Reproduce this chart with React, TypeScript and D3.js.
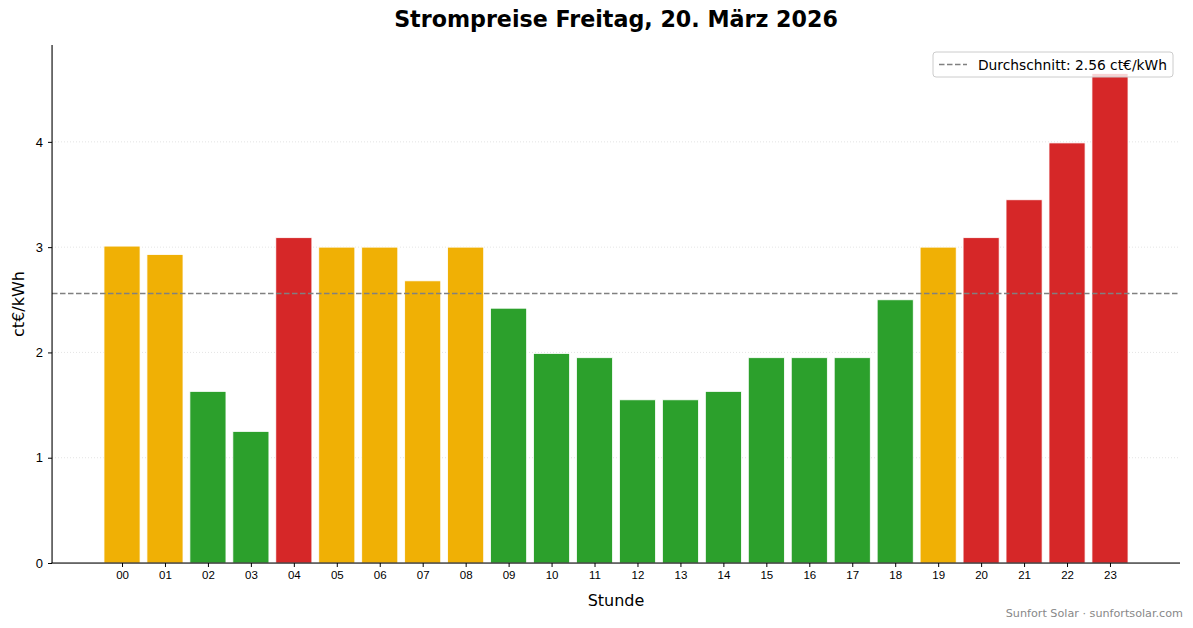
import { useEffect, useRef } from 'react';
import * as d3 from 'd3';

// hourly prices, ct€/kWh
const hours: string[] = ['00', '01', '02', '03', '04', '05', '06', '07', '08', '09', '10', '11',
    '12', '13', '14', '15', '16', '17', '18', '19', '20', '21', '22', '23'];
const prices: number[] = [3.01, 2.93, 1.63, 1.25, 3.09, 3.0, 3.0, 2.68, 3.0, 2.42, 1.99, 1.95,
    1.55, 1.55, 1.63, 1.95, 1.95, 1.95, 2.5, 3.0, 3.09, 3.45, 3.99, 4.65];
// g = günstig, m = mittel, t = teuer
const levels: string[] = ['m', 'm', 'g', 'g', 't', 'm', 'm', 'm', 'm', 'g', 'g', 'g',
    'g', 'g', 'g', 'g', 'g', 'g', 'g', 'm', 't', 't', 't', 't'];
const average = 2.56;
const yTicks: number[] = [0, 1, 2, 3, 4];

const colors: Record<string, string> = { g: '#2ca02c', m: '#f0b005', t: '#d62728' };

export default function App() {
    const ref = useRef<SVGSVGElement>(null);

    useEffect(() => {
        const W = 1193, H = 628;
        const m = { top: 45, right: 13, bottom: 65, left: 52 };
        const svg = d3.select(ref.current);
        svg.selectAll('*').remove();
        svg.attr('width', W).attr('height', H).style('font-family', '"DejaVu Sans", sans-serif');

        svg.append('rect').attr('width', W).attr('height', H).attr('fill', '#fff');

        const x = d3.scaleLinear().domain([-1.63, 24.63]).range([m.left, W - m.right]);
        const y = d3.scaleLinear().domain([0, 4.92]).range([H - m.bottom, m.top]);
        const bw = x(0.84) - x(0);

        const g = svg.append('g');

        // grid
        g.selectAll('line.grid').data(yTicks.filter((t) => t > 0)).join('line')
            .attr('class', 'grid')
            .attr('x1', m.left).attr('x2', W - m.right)
            .attr('y1', (d) => y(d)).attr('y2', (d) => y(d))
            .attr('stroke', '#ddd').attr('stroke-width', 0.8).attr('stroke-dasharray', '1,2');

        // bars
        g.selectAll('rect.bar').data(prices).join('rect')
            .attr('class', 'bar')
            .attr('x', (_, i) => x(i) - bw / 2)
            .attr('width', bw)
            .attr('y', (d) => y(d))
            .attr('height', (d) => y(0) - y(d))
            .attr('fill', (_, i) => colors[levels[i]])
            .attr('stroke', '#fff').attr('stroke-width', 0.8);

        // Durchschnitt
        g.append('line')
            .attr('x1', m.left).attr('x2', W - m.right)
            .attr('y1', y(average)).attr('y2', y(average))
            .attr('stroke', '#808080').attr('stroke-width', 1.5).attr('stroke-dasharray', '5.5,2.5');

        // axes
        const xAxis = g.append('g').attr('transform', `translate(0,${y(0)})`)
            .call(d3.axisBottom(x).tickValues(d3.range(hours.length)).tickFormat((_, i) => hours[i]).tickSize(4).tickPadding(4).tickSizeOuter(0));
        xAxis.select('.domain').remove();
        xAxis.selectAll('text').attr('font-size', 11.5).attr('fill', '#000');
        xAxis.selectAll('line').attr('stroke', '#000');

        const yAxis = g.append('g').attr('transform', `translate(${m.left},0)`)
            .call(d3.axisLeft(y).tickValues(yTicks).tickFormat(d3.format('d')).tickSize(4).tickPadding(5).tickSizeOuter(0));
        yAxis.select('.domain').remove();
        yAxis.selectAll('text').attr('font-size', 13).attr('fill', '#000');
        yAxis.selectAll('line').attr('stroke', '#000');

        // spines
        g.append('rect').attr('x', m.left - 0.5).attr('y', y(0) - 0.5).attr('width', W - m.right - m.left + 0.5).attr('height', 1.1)
            .attr('fill', '#000');
        g.append('rect').attr('x', m.left - 0.5).attr('y', m.top).attr('width', 1.1).attr('height', y(0) - m.top)
            .attr('fill', '#000');

        // labels
        svg.append('text').attr('x', 616).attr('y', 27).attr('text-anchor', 'middle')
            .attr('font-size', 22.2).attr('font-weight', 'bold').attr('fill', '#000')
            .text('Strompreise Freitag, 20. März 2026');
        svg.append('text').attr('x', (m.left + W - m.right) / 2).attr('y', 606).attr('text-anchor', 'middle')
            .attr('font-size', 16).attr('fill', '#000').text('Stunde');
        svg.append('text').attr('transform', `translate(24,${(m.top + H - m.bottom) / 2}) rotate(-90)`)
            .attr('text-anchor', 'middle').attr('font-size', 16).attr('fill', '#000').text('ct€/kWh');
        svg.append('text').attr('x', 1183).attr('y', 617).attr('text-anchor', 'end')
            .attr('font-size', 11.2).attr('fill', '#888').text('Sunfort Solar · sunfortsolar.com');

        // legend
        const lg = svg.append('g').attr('transform', 'translate(933,52)');
        lg.append('rect').attr('width', 240).attr('height', 25).attr('rx', 3)
            .attr('fill', 'rgba(255,255,255,0.8)').attr('stroke', '#ccc');
        lg.append('line').attr('x1', 6).attr('x2', 34).attr('y1', 12.5).attr('y2', 12.5)
            .attr('stroke', '#808080').attr('stroke-width', 1.5).attr('stroke-dasharray', '5.5,2.5');
        lg.append('text').attr('x', 45).attr('y', 17.5).attr('font-size', 13.8).attr('fill', '#000')
            .text(`Durchschnitt: ${average.toFixed(2)} ct€/kWh`);
    }, []);

    return <svg ref={ref} style={{ display: 'block', position: 'absolute', left: 0, top: 0 }} />;
}
